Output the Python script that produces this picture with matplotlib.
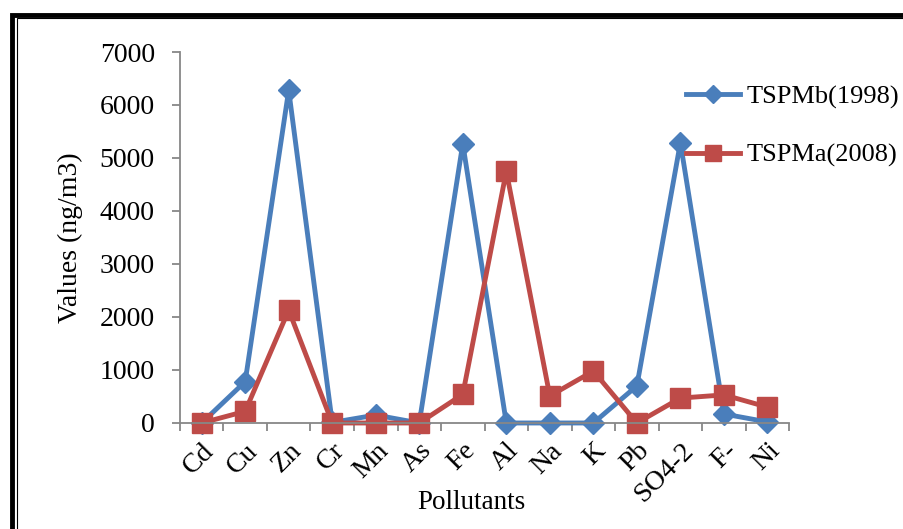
import numpy as np
import matplotlib.pyplot as plt
from matplotlib.patches import Rectangle

plt.rcParams['font.family'] = ['Liberation Serif', 'DejaVu Serif']

# 数据
pollutants = ['Cd', 'Cu', 'Zn', 'Cr', 'Mn', 'As', 'Fe', 'Al', 'Na', 'K', 'Pb', 'SO4-2', 'F-', 'Ni']
tspm_1998 = [0, 780, 6280, 10, 150, 0, 5270, 0, 0, 0, 700, 5290, 170, 20]
tspm_2008 = [0, 220, 2130, 0, 0, 0, 540, 4750, 510, 980, 0, 470, 530, 300]

fig = plt.figure(figsize=(9.04, 5.29), dpi=100)
ax = fig.add_axes([0.199, 0.2004, 0.674, 0.7013])

x = np.arange(len(pollutants))
ax.plot(x, tspm_1998, color='#4a7ebb', lw=3.5, marker='D', ms=11,
        label='TSPMb(1998)', clip_on=False)
ax.plot(x, tspm_2008, color='#be4b48', lw=3.5, marker='s', ms=15,
        label='TSPMa(2008)', clip_on=False)

ax.set_xlim(-0.5, len(pollutants) - 0.5)
ax.set_ylim(0, 7000)
ax.set_yticks(np.arange(0, 7001, 1000))

# 类别刻度在分隔处, 标签在中心
ax.set_xticks(np.arange(-0.5, len(pollutants), 1))
ax.set_xticklabels([])
ax.set_xticks(x, minor=True)
ax.set_xticklabels(pollutants, minor=True, rotation=45, ha='right',
                   va='top', rotation_mode='anchor', fontsize=20)
ax.tick_params(axis='x', which='minor', length=0, pad=11)
ax.tick_params(axis='x', which='major', length=6, color='#878787', width=1.3)
ax.tick_params(axis='y', length=6, color='#878787', width=1.3, labelsize=20, pad=12)

for s in ['top', 'right']:
    ax.spines[s].set_visible(False)
for s in ['left', 'bottom']:
    ax.spines[s].set_color('#878787')
    ax.spines[s].set_linewidth(1.3)

ax.set_ylabel('Values (ng/m3)', fontsize=20, va='center')
ax.yaxis.set_label_coords(-0.18, 0.5)
ax.set_xlabel('Pollutants', fontsize=19.5, va='center')
ax.xaxis.set_label_coords(0.478, -0.213)

ax.legend(loc='center left', bbox_to_anchor=(0.83, 0.80), frameon=False,
          fontsize=19, handlelength=2.05, handletextpad=0.25, labelspacing=1.3,
          borderaxespad=0, borderpad=0, markerscale=0.8)

# 外框
fig.patches.append(Rectangle((12 / 904, -0.1), 1.2, 1 + 0.1 - 15 / 529,
                             transform=fig.transFigure, fill=False,
                             edgecolor='black', lw=3.5))
fig.patches.append(Rectangle((17 / 904, -0.1), 1.2, 1 + 0.1 - 18 / 529,
                             transform=fig.transFigure, fill=False,
                             edgecolor='black', lw=0.8))

plt.savefig('out.png', dpi=100)
